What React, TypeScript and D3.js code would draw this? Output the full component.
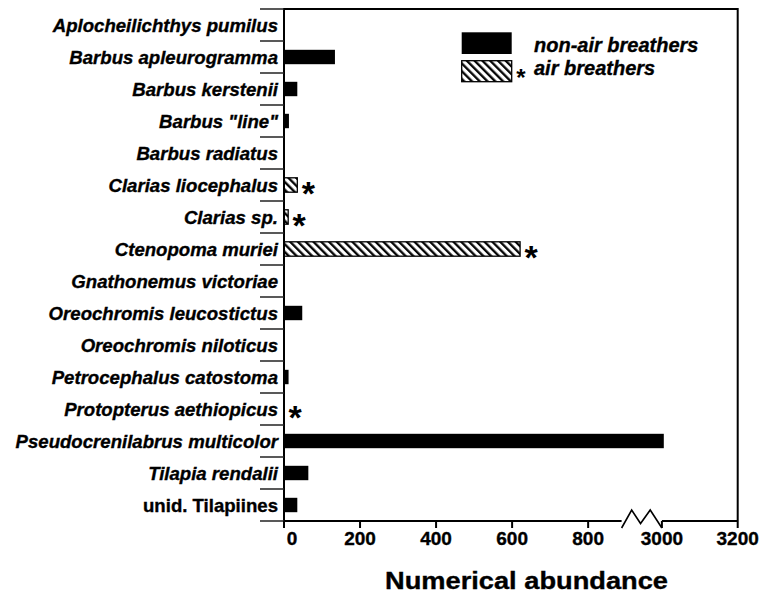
import React, { useEffect } from 'react';
import * as d3 from 'd3';

const SPECIES = [
  'Aplocheilichthys pumilus',
  'Barbus apleurogramma',
  'Barbus kerstenii',
  'Barbus "line"',
  'Barbus radiatus',
  'Clarias liocephalus',
  'Clarias sp.',
  'Ctenopoma muriei',
  'Gnathonemus victoriae',
  'Oreochromis leucostictus',
  'Oreochromis niloticus',
  'Petrocephalus catostoma',
  'Protopterus aethiopicus',
  'Pseudocrenilabrus multicolor',
  'Tilapia rendalii',
  'unid. Tilapiines',
];
const ABUNDANCE = [0, 134, 35, 13, 0, 35, 11, 621, 0, 48, 0, 12, 0, 3005, 64, 35];
const AIR_BREATHERS = ['Clarias liocephalus', 'Clarias sp.', 'Ctenopoma muriei', 'Protopterus aethiopicus'];
const NOT_ITALIC = ['unid. Tilapiines'];
const X_TICKS = [0, 200, 400, 600, 800, 3000, 3200];
const LEGEND_LABELS = ['non-air breathers', 'air breathers'];
const X_TITLE = 'Numerical abundance';

const LEFT = 284;
const TOP = 9;
const RIGHT = 737.7;
const BOTTOM = 521;
const BREAK_START = 888;
const FONT = '"Liberation Sans", Arial, sans-serif';

const App = () => {
  useEffect(() => {
    document.body.style.margin = '0';
  }, []);

  // broken axis: 0..888 then jump to 2900..3200
  const xScale = d3.scaleLinear()
    .domain([0, BREAK_START, 2900, 3200])
    .range([LEFT, 621.6, 624, RIGHT]);
  const yScale = d3.scaleBand()
    .domain(SPECIES)
    .range([TOP, BOTTOM])
    .paddingInner(0.55)
    .paddingOuter(0.275);

  const step = yScale.step();
  const boundaries = d3.range(SPECIES.length + 1).map(i => TOP + i * step);
  const bw = yScale.bandwidth();

  const breakX0 = xScale(BREAK_START);
  const breakX1 = xScale(3000);
  const zig = d3.line()([
    [breakX0, BOTTOM + 7],
    [breakX0 + (breakX1 - breakX0) * 0.25, BOTTOM - 11],
    [breakX0 + (breakX1 - breakX0) * 0.47, BOTTOM + 2.5],
    [breakX0 + (breakX1 - breakX0) * 0.71, BOTTOM - 11],
    [breakX1, BOTTOM + 7],
  ]);

  const star = (cx: number, cy: number, fs: number, key: string) => (
    <text
      key={key}
      x={cx}
      y={cy + fs * 0.456}
      fontSize={fs}
      fontWeight="bold"
      textAnchor="middle"
      fontFamily={FONT}
    >
      *
    </text>
  );

  const heavy = { stroke: '#000', strokeWidth: 0.35 };

  return (
    <svg
      width={762}
      height={594}
      style={{ position: 'absolute', left: 0, top: 0, display: 'block', background: '#fff' }}
      fontFamily={FONT}
    >
      <defs>
        <pattern
          id="hatch"
          patternUnits="userSpaceOnUse"
          width={5.5}
          height={5.5}
          patternTransform="rotate(-45)"
        >
          <rect width={5.5} height={5.5} fill="#fff" />
          <line x1={1.2} y1={0} x2={1.2} y2={5.5} stroke="#000" strokeWidth={2.3} />
        </pattern>
      </defs>

      {/* bars */}
      {SPECIES.map((s, i) => {
        const v = ABUNDANCE[i];
        if (v <= 0) return null;
        const air = AIR_BREATHERS.includes(s);
        return (
          <rect
            key={s}
            x={LEFT}
            y={yScale(s)}
            width={xScale(v) - LEFT}
            height={bw}
            fill={air ? 'url(#hatch)' : '#000'}
            stroke="#000"
            strokeWidth={air ? 1.3 : 0}
          />
        );
      })}

      {/* stars for air breathers */}
      {SPECIES.map((s, i) => {
        if (!AIR_BREATHERS.includes(s)) return null;
        const cx = xScale(ABUNDANCE[i]) + 11;
        const cy = (yScale(s) as number) + bw / 2 + 4;
        return star(cx, cy, 34, `star-${s}`);
      })}

      {/* frame */}
      <path
        d={`M${LEFT},${BOTTOM}V${TOP}H${RIGHT}V${BOTTOM}`}
        fill="none"
        stroke="#000"
        strokeWidth={2}
      />
      <line x1={LEFT} x2={breakX0} y1={BOTTOM} y2={BOTTOM} stroke="#000" strokeWidth={2} />
      <line x1={breakX1} x2={RIGHT} y1={BOTTOM} y2={BOTTOM} stroke="#000" strokeWidth={2} />
      <path d={zig ?? ''} fill="none" stroke="#000" strokeWidth={1.6} />

      {/* category separators */}
      {boundaries.map((b, i) => (
        <line key={`sep-${i}`} x1={260} x2={LEFT} y1={b} y2={b} stroke="#222" strokeWidth={1.5} />
      ))}

      {/* category labels */}
      {SPECIES.map(s => (
        <text
          key={`lab-${s}`}
          x={278}
          y={(yScale(s) as number) + bw / 2 + 6.5}
          textAnchor="end"
          fontSize={18.6}
          fontWeight="bold"
          fontStyle={NOT_ITALIC.includes(s) ? 'normal' : 'italic'}
          {...heavy}
        >
          {s}
        </text>
      ))}

      {/* x ticks */}
      {X_TICKS.map(t => (
        <g key={`xt-${t}`}>
          <line x1={xScale(t)} x2={xScale(t)} y1={BOTTOM} y2={BOTTOM + 7} stroke="#000" strokeWidth={2} />
          <text
            x={xScale(t) + (t === 0 ? 8 : 0)}
            y={545}
            textAnchor="middle"
            fontSize={19}
            fontWeight="bold"
            {...heavy}
          >
            {t}
          </text>
        </g>
      ))}

      {/* x title */}
      <text
        x={526.5}
        y={589}
        textAnchor="middle"
        fontSize={24}
        fontWeight="bold"
        textLength={283}
        lengthAdjust="spacingAndGlyphs"
        {...heavy}
      >
        {X_TITLE}
      </text>

      {/* legend */}
      <rect x={461.7} y={32.3} width={50} height={21.7} fill="#000" />
      <rect x={461.7} y={60.7} width={50} height={21} fill="url(#hatch)" stroke="#000" strokeWidth={1.3} />
      <text x={534} y={51.7} fontSize={20} fontWeight="bold" fontStyle="italic" {...heavy}>{LEGEND_LABELS[0]}</text>
      <text x={534} y={75} fontSize={20} fontWeight="bold" fontStyle="italic" {...heavy}>{LEGEND_LABELS[1]}</text>
      {star(521, 75, 24, 'legend-star')}
    </svg>
  );
};

export default App;
